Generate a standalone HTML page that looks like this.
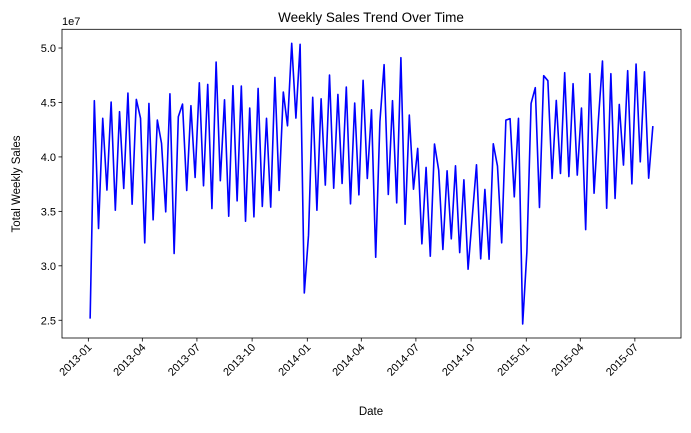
<!DOCTYPE html>
<html><head><meta charset="utf-8"><style>
body{margin:0;background:#fff;}
svg text{font-family:"Liberation Sans","DejaVu Sans",sans-serif;fill:#000;}
</style></head><body>
<svg id="chart" width="691" height="428" viewBox="0 0 691 428" xmlns="http://www.w3.org/2000/svg">
<text x="371" y="22" font-size="13.5" text-anchor="middle">Weekly Sales Trend Over Time</text>
<text x="0" y="0" font-size="11.5" text-anchor="middle" transform="translate(20,184) rotate(-90)">Total Weekly Sales</text>
<text x="371" y="415" font-size="11.5" text-anchor="middle">Date</text>
<text x="62" y="25" font-size="11">1e7</text>
<g id="plot"></g>
</svg>
<script>
const startDate = "2013-01-04";
const sales = [2.515,4.516,3.343,4.354,3.695,4.504,3.511,4.415,3.710,4.586,3.566,4.528,4.354,3.211,4.491,3.422,4.338,4.124,3.496,4.580,3.113,4.369,4.485,3.692,4.470,3.811,4.681,3.735,4.666,3.526,4.871,3.781,4.525,3.456,4.654,3.597,
4.651,3.410,4.449,3.450,4.629,3.545,4.354,3.539,4.730,3.692,4.596,4.286,5.043,4.357,5.034,2.751,3.281,4.547,3.511,4.534,3.741,4.752,3.713,4.574,3.756,4.642,3.569,4.495,3.652,4.703,3.802,4.433,3.079,4.323,4.847,3.655,
4.516,3.578,4.911,3.382,4.384,3.704,4.078,3.202,3.903,3.088,4.118,3.879,3.150,3.873,3.248,3.919,3.122,3.790,2.969,3.450,3.928,3.064,3.701,3.061,4.121,3.916,3.211,4.338,4.351,3.634,4.354,2.466,3.128,4.491,4.636,3.536,
4.746,4.700,3.802,4.519,3.848,4.773,3.820,4.672,3.833,4.449,3.333,4.764,3.667,4.323,4.880,3.529,4.764,3.618,4.482,3.925,4.792,3.753,4.853,3.955,4.782,3.805,4.283];
const yTicks = [2.5,3.0,3.5,4.0,4.5,5.0];
const xTickLabels = ["2013-01","2013-04","2013-07","2013-10","2014-01","2014-04","2014-07","2014-10","2015-01","2015-04","2015-07"];

const NS="http://www.w3.org/2000/svg";
const L=62,R=681,T=29.3,B=338;
const DAY=86400000;
const t0=Date.parse(startDate+"T00:00:00Z");
const times=sales.map((v,i)=>t0+i*7*DAY);
const tmin=times[0],tmax=times[times.length-1],tr=tmax-tmin;
const dmin=tmin-0.05*tr,dmax=tmax+0.05*tr;
const vmin=Math.min(...sales),vmax=Math.max(...sales),vr=vmax-vmin;
const ymin=vmin-0.05*vr,ymax=vmax+0.05*vr;
const xs=t=>L+(t-dmin)/(dmax-dmin)*(R-L);
const ys=v=>B-(v-ymin)/(ymax-ymin)*(B-T);
const plot=document.getElementById('plot');
function mk(tag,attrs){const e=document.createElementNS(NS,tag);for(const k in attrs)e.setAttribute(k,attrs[k]);plot.appendChild(e);return e;}

// y ticks
yTicks.forEach(v=>{
  const y=ys(v);
  const tk=mk('line',{x1:L-3.5,x2:L,y1:y,y2:y,stroke:'#000','stroke-width':0.8});
  
  
  const tx=mk('text',{x:L-6,y:y+4,'font-size':11,'text-anchor':'end'});
  tx.textContent=v.toFixed(1);
  
  
});
// x ticks
xTickLabels.forEach(s=>{
  const t=Date.parse(s+"-01T00:00:00Z");
  const x=xs(t);
  const tk=mk('line',{x1:x,x2:x,y1:B,y2:B+3.5,stroke:'#000','stroke-width':0.8});
  
  
  const tx=mk('text',{x:0,y:0,'font-size':11,'text-anchor':'end',transform:`translate(${x+4},${B+10}) rotate(-45)`});
  tx.textContent=s;
  
  
});
// line
const d=sales.map((v,i)=>(i?'L':'M')+xs(times[i]).toFixed(2)+','+ys(v).toFixed(2)).join('');
const path=mk('path',{d:d,fill:'none',stroke:'#0000ff','stroke-width':1.6,'stroke-linejoin':'round'});


// frame
const fr=mk('rect',{x:L,y:T,width:R-L,height:B-T,fill:'none',stroke:'#000','stroke-width':0.8});


</script>
</body></html>
